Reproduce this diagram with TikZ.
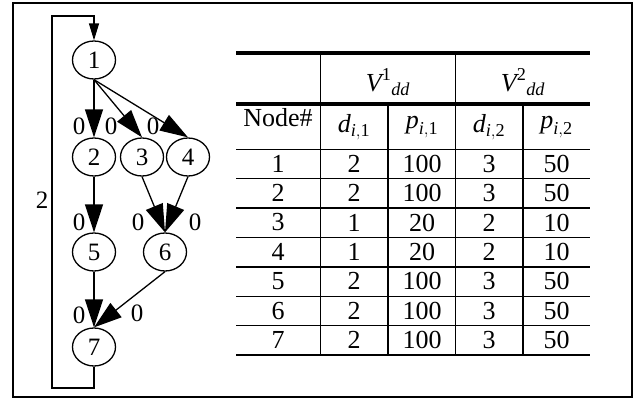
\documentclass[tikz,border=0pt]{standalone}
\usepackage{amsmath}
\usepackage{fontspec}
\setmainfont{Liberation Serif}
\usetikzlibrary{shapes.geometric,arrows.meta}

\tikzset{
  vertex/.style={ellipse, draw, line width=1.3pt, minimum width=43pt,
    minimum height=38pt, inner sep=0pt, font=\fontsize{25}{27}\selectfont},
  flow/.style={line width=1.3pt, -{Triangle[length=28pt,width=18pt]}},
  back/.style={line width=1.3pt, -{Triangle[length=17pt,width=10pt]}},
  wlabel/.style={inner sep=0pt, font=\fontsize{25}{27}\selectfont},
  cell/.style={inner sep=0pt, font=\fontsize{26}{28}\selectfont},
  rule/.style={line width=4pt},
  grid/.style={line width=1.5pt},
}

\begin{document}
\begin{tikzpicture}[x=1pt,y=-1pt]
  \useasboundingbox (0,0) rectangle (637,399);
  \draw[line width=1.5pt] (13,3) rectangle (632,397);

  % Task graph
  \node[vertex] (n1) at (94,60) {1};
  \node[vertex] (n2) at (94,157) {2};
  \node[vertex] (n3) at (142,157) {3};
  \node[vertex] (n4) at (188,157) {4};
  \node[vertex] (n5) at (94,252) {5};
  \node[vertex] (n6) at (165,252) {6};
  \node[vertex] (n7) at (94,347) {7};

  \draw[flow] (n1.south) -- (n2.north);
  \draw[flow] (n1.south) -- (n3.north);
  \draw[flow] (n1.south) -- (n4.north);
  \draw[flow] (n2.south) -- (n5.north);
  \draw[flow] (n3.south) -- (n6.north);
  \draw[flow] (n4.south) -- (n6.north);
  \draw[flow] (n5.south) -- (n7.north);
  \draw[flow] (n6.south) -- (n7.north);

  % Edge weights
  \node[wlabel] (w12) at (79,126) {0};
  \node[wlabel] (w13) at (111,126) {0};
  \node[wlabel] (w14) at (153,126) {0};
  \node[wlabel] (w25) at (79,222) {0};
  \node[wlabel] (w36) at (138,222) {0};
  \node[wlabel] (w46) at (195,222) {0};
  \node[wlabel] (w57) at (79,315) {0};
  \node[wlabel] (w67) at (137,313) {0};

  % Loop back from 7 to 1
  \coordinate (lowleft) at (52,388);
  \coordinate (upleft) at (52,16);
  \draw[back] (n7.south) |- (lowleft) -- (upleft) -| (n1.north);
  \node[wlabel] (w71) at (42,200) {2};

  % Table rules
  \draw[rule] (236,52.7) -- (590,52.7);
  \draw[rule] (236,104) -- (590,104);
  \foreach \k in {0,...,7}
    \draw[grid] (236,149.3+29.4*\k) -- (590,149.3+29.4*\k);
  \draw[grid] (320.7,52.7) -- (320.7,355);
  \draw[grid] (455.7,52.7) -- (455.7,355);
  \draw[grid] (388,104) -- (388,355);
  \draw[grid] (523,104) -- (523,355);

  % Table head
  \node[cell] (hv1) at (388,82) {$\textit{V}^{\textrm{1}}{}_{\textit{dd}}$};
  \node[cell] (hv2) at (523,82) {$\textit{V}^{\textrm{2}}{}_{\textit{dd}}$};
  \node[cell] (hnode) at (278,118) {Node\#};
  \node[cell] (hd1) at (354,127) {$\textit{d}_{\textit{i},\textrm{1}}$};
  \node[cell] (hp1) at (422,127) {$\textit{p}_{\textit{i},\textrm{1}}$};
  \node[cell] (hd2) at (489,127) {$\textit{d}_{\textit{i},\textrm{2}}$};
  \node[cell] (hp2) at (556.5,127) {$\textit{p}_{\textit{i},\textrm{2}}$};

  % Table body
  \foreach \i/\d/\p/\e/\q [count=\n, evaluate=\n as \y using 134.3+29.4*\n] in
    {1/2/100/3/50, 2/2/100/3/50, 3/1/20/2/10, 4/1/20/2/10,
     5/2/100/3/50, 6/2/100/3/50, 7/2/100/3/50} {
    \node[cell] (id\n) at (278,\y) {\i};
    \node[cell] (da\n) at (354,\y) {\d};
    \node[cell] (pa\n) at (422,\y) {\p};
    \node[cell] (db\n) at (489,\y) {\e};
    \node[cell] (pb\n) at (556.5,\y) {\q};
  }
\end{tikzpicture}
\end{document}
